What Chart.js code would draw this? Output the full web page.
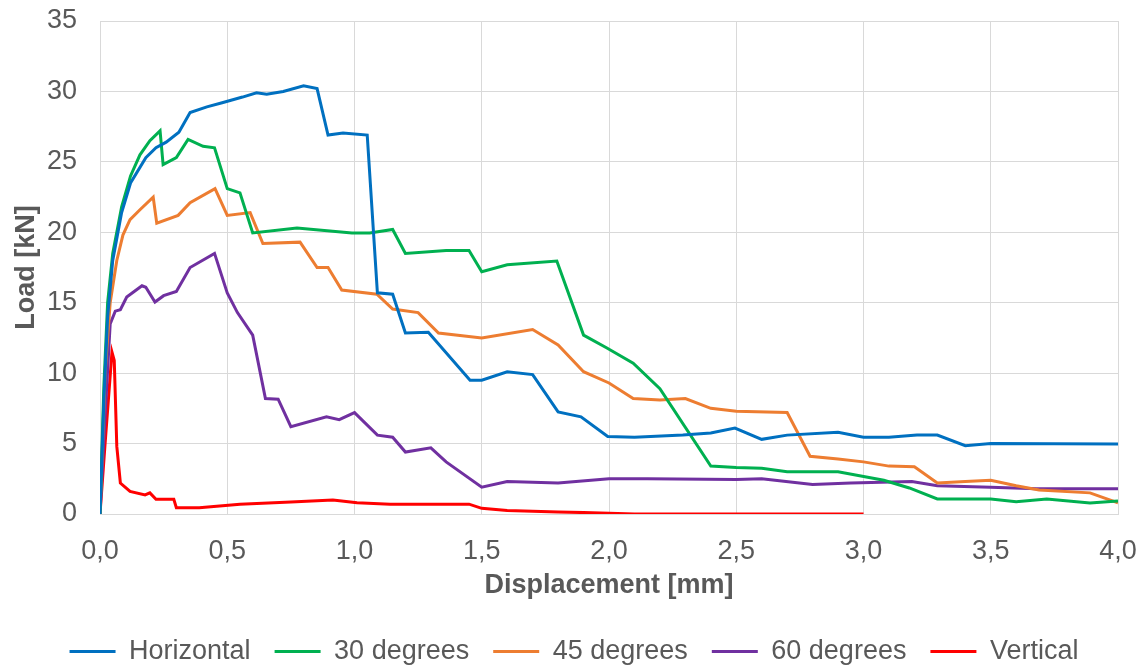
<!DOCTYPE html>
<html>
<head>
<meta charset="utf-8">
<script src="https://cdn.jsdelivr.net/npm/chart.js@4/dist/chart.umd.min.js"></script>
<style>
  html, body { margin: 0; padding: 0; background: #fff; }
  canvas { display: block; }
</style>
</head>
<body>
<canvas id="chart" width="1145" height="665"></canvas>
<script>
// displacement [mm], load [kN] pairs per loading angle
const horizontal = [
  [0, 0], [0.015, 8], [0.03, 14], [0.05, 18], [0.085, 21.4], [0.12, 23.5], [0.18, 25.3], [0.22, 26.0],
  [0.26, 26.4], [0.31, 27.1], [0.354, 28.5], [0.42, 28.9], [0.48, 29.2], [0.56, 29.6], [0.615, 29.9],
  [0.655, 29.8], [0.72, 30.0], [0.8, 30.4], [0.853, 30.2], [0.896, 26.9], [0.955, 27.05], [1.05, 26.9],
  [1.09, 15.7], [1.15, 15.6], [1.2, 12.85], [1.29, 12.9], [1.454, 9.5], [1.5, 9.5], [1.6, 10.1],
  [1.7, 9.9], [1.8, 7.25], [1.89, 6.9], [1.995, 5.5], [2.1, 5.45], [2.29, 5.6], [2.4, 5.75],
  [2.495, 6.1], [2.6, 5.3], [2.7, 5.6], [2.9, 5.8], [3.0, 5.45], [3.1, 5.45], [3.21, 5.6],
  [3.29, 5.6], [3.4, 4.85], [3.5, 5.0], [4.0, 4.97]
];
const deg30 = [
  [0, 0], [0.015, 9], [0.03, 15], [0.05, 18.5], [0.085, 21.8], [0.12, 24.0], [0.157, 25.5], [0.196, 26.5],
  [0.236, 27.2], [0.248, 24.8], [0.3, 25.3], [0.346, 26.6], [0.405, 26.1], [0.45, 26.0], [0.5, 23.1],
  [0.55, 22.8], [0.6, 19.95], [0.774, 20.3], [0.99, 19.95], [1.06, 19.95], [1.15, 20.2], [1.2, 18.5],
  [1.36, 18.7], [1.45, 18.7], [1.5, 17.2], [1.6, 17.7], [1.795, 17.96], [1.9, 12.7], [1.99, 11.8],
  [2.095, 10.7], [2.2, 8.9], [2.4, 3.4], [2.5, 3.3], [2.6, 3.25], [2.7, 3.0], [2.9, 3.0], [3.08, 2.4],
  [3.18, 1.85], [3.29, 1.07], [3.5, 1.07], [3.6, 0.87], [3.72, 1.07], [3.89, 0.78], [4.0, 0.93]
];
const deg45 = [
  [0, 0], [0.02, 10], [0.04, 15], [0.066, 18.0], [0.09, 19.8], [0.118, 20.9], [0.157, 21.6], [0.209, 22.5],
  [0.223, 20.65], [0.307, 21.2], [0.354, 22.1], [0.452, 23.1], [0.5, 21.2], [0.59, 21.4], [0.64, 19.2],
  [0.786, 19.3], [0.853, 17.5], [0.896, 17.5], [0.95, 15.9], [1.088, 15.6], [1.15, 14.55], [1.25, 14.3],
  [1.33, 12.85], [1.5, 12.5], [1.7, 13.1], [1.8, 12.0], [1.9, 10.1], [2.0, 9.3], [2.095, 8.2],
  [2.2, 8.1], [2.3, 8.2], [2.4, 7.5], [2.5, 7.3], [2.7, 7.2], [2.79, 4.1], [2.9, 3.9], [3.0, 3.7],
  [3.1, 3.4], [3.2, 3.35], [3.29, 2.2], [3.4, 2.3], [3.5, 2.4], [3.6, 2.0], [3.69, 1.7], [3.89, 1.5],
  [4.0, 0.8]
];
const deg60 = [
  [0, 0], [0.02, 7], [0.04, 13.5], [0.06, 14.4], [0.08, 14.5], [0.105, 15.4], [0.165, 16.2], [0.18, 16.1],
  [0.216, 15.05], [0.25, 15.5], [0.3, 15.8], [0.354, 17.5], [0.45, 18.5], [0.5, 15.7], [0.54, 14.3],
  [0.6, 12.7], [0.65, 8.2], [0.7, 8.15], [0.75, 6.2], [0.89, 6.9], [0.94, 6.7], [1.0, 7.2], [1.09, 5.6],
  [1.15, 5.45], [1.2, 4.4], [1.3, 4.7], [1.36, 3.7], [1.5, 1.9], [1.6, 2.3], [1.8, 2.2], [2.0, 2.5],
  [2.15, 2.5], [2.5, 2.45], [2.6, 2.5], [2.8, 2.1], [2.95, 2.2], [3.19, 2.3], [3.29, 2.0], [3.5, 1.9],
  [3.68, 1.8], [4.0, 1.8]
];
const vertical = [
  [0, 0], [0.02, 5], [0.047, 11.5], [0.056, 10.9], [0.066, 4.8], [0.08, 2.2], [0.118, 1.6], [0.177, 1.35],
  [0.196, 1.5], [0.22, 1.05], [0.29, 1.05], [0.3, 0.45], [0.39, 0.45], [0.55, 0.7], [0.75, 0.85],
  [0.915, 1.0], [1.01, 0.8], [1.14, 0.7], [1.45, 0.7], [1.5, 0.4], [1.6, 0.25], [1.8, 0.15], [1.9, 0.1],
  [2.0, 0.05], [2.1, 0], [3.0, 0]
];

const seriesNames = ['Horizontal', '30 degrees', '45 degrees', '60 degrees', 'Vertical'];
const seriesColors = ['#0070C0', '#00B050', '#ED7D31', '#7030A0', '#FF0000'];
const seriesData = [horizontal, deg30, deg45, deg60, vertical];

const textColor = '#595959';
const gridColor = '#d9d9d9';
const fontFamily = '"Liberation Sans", Arial, sans-serif';

const datasets = seriesData.map((points, i) => ({
  label: seriesNames[i],
  data: points.map(p => ({ x: p[0], y: p[1] })),
  borderColor: seriesColors[i],
  backgroundColor: seriesColors[i],
  borderWidth: 3,
  pointRadius: 0,
  tension: 0
}));

// the legend row is centred on the whole canvas, not on the padded box
const centerLegend = {
  id: 'centerLegend',
  afterLayout(chart) {
    chart.legend.left += 30;
  }
};

new Chart(document.getElementById('chart'), {
  type: 'line',
  data: { datasets },
  plugins: [centerLegend],
  options: {
    responsive: false,
    animation: false,
    devicePixelRatio: 1,
    layout: { padding: { left: 0, right: 27, top: 21, bottom: -10 } },
    plugins: {
      tooltip: { enabled: false },
      legend: {
        position: 'bottom',
        labels: {
          usePointStyle: true,
          pointStyle: 'line',
          pointStyleWidth: 46,
          padding: 24,
          color: textColor,
          font: { family: fontFamily, size: 27 }
        }
      }
    },
    scales: {
      x: {
        type: 'linear',
        min: 0,
        max: 4,
        afterFit(scale) { scale.height = 100; },
        // invisible tick marks keep the labels clear of the axis
        grid: { color: gridColor, lineWidth: 1, drawTicks: true, tickLength: 18, tickColor: 'rgba(0,0,0,0)' },
        border: { color: gridColor },
        ticks: {
          stepSize: 0.5,
          padding: 3,
          color: textColor,
          font: { family: fontFamily, size: 27 },
          callback: v => v.toFixed(1).replace('.', ',')
        },
        title: {
          display: true,
          text: 'Displacement [mm]',
          color: textColor,
          padding: { top: 0, bottom: 12 },
          font: { family: fontFamily, size: 27, weight: 'bold' }
        }
      },
      y: {
        min: 0,
        max: 35,
        afterFit(scale) { scale.width = 100; },
        grid: { color: gridColor, lineWidth: 1, drawTicks: true, tickLength: 20, tickColor: 'rgba(0,0,0,0)' },
        border: { color: gridColor },
        ticks: {
          stepSize: 5,
          padding: 3,
          color: textColor,
          font: { family: fontFamily, size: 27 }
        },
        title: {
          display: true,
          text: 'Load [kN]',
          color: textColor,
          padding: { top: 10, bottom: 0 },
          font: { family: fontFamily, size: 27, weight: 'bold' }
        }
      }
    }
  }
});
</script>
</body>
</html>
